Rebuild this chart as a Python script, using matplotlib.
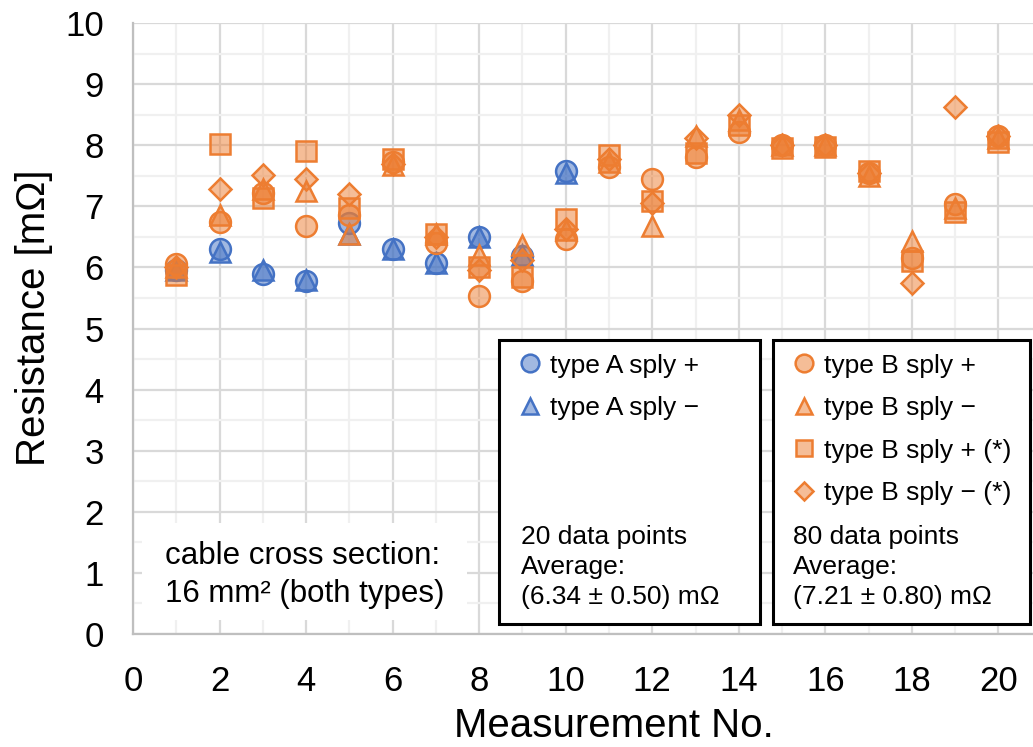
import matplotlib
matplotlib.use("Agg")
import matplotlib.pyplot as plt
from matplotlib.patches import Rectangle
from matplotlib.ticker import MultipleLocator

plt.rcParams['font.family'] = ['Liberation Sans', 'DejaVu Sans']

measurement = list(range(1, 21))
a_plus = [5.95, 6.3, 5.9, 5.77, 6.72, 6.3, 6.07, 6.5, 6.18, 7.58,
          None, None, None, None, None, None, None, None, None, None]
a_minus = [5.95, 6.25, 5.95, 5.8, 6.55, 6.3, 6.07, 6.5, 6.2, 7.55,
           None, None, None, None, None, None, None, None, None, None]
b_plus = [6.05, 6.75, 7.22, 6.67, 6.85, 7.72, 6.4, 5.53, 5.77, 6.46,
          7.65, 7.44, 7.8, 8.22, 8.0, 8.0, 7.55, 6.15, 7.03, 8.15]
b_minus = [6.0, 6.85, 7.28, 7.25, 6.55, 7.68, 6.55, 6.2, 6.37, 6.62,
           7.72, 6.68, 8.15, 8.42, 8.0, 8.0, 7.5, 6.43, 6.98, 8.12]
b_plus_star = [5.88, 8.02, 7.13, 7.9, 6.98, 7.77, 6.55, 6.0, 5.85, 6.8,
               7.84, 7.08, 7.87, 8.33, 7.95, 7.97, 7.58, 6.1, 6.9, 8.05]
b_minus_star = [6.0, 7.28, 7.52, 7.45, 7.2, 7.7, 6.5, 5.95, 6.12, 6.63,
                7.78, 7.05, 8.12, 8.5, 8.0, 8.0, 7.55, 5.75, 8.63, 8.15]

labels_a = ["type A sply +", "type A sply \u2212"]
labels_b = ["type B sply +", "type B sply \u2212", "type B sply + (*)", "type B sply \u2212 (*)"]
stats_a = "20 data points\nAverage:\n(6.34 \u00b1 0.50) m\u03a9"
stats_b = "80 data points\nAverage:\n(7.21 \u00b1 0.80) m\u03a9"
note = "cable cross section:\n16 mm\u00b2 (both types)"

BLUE = "#4472C4"
ORANGE = "#ED7D31"

W, H = 1033, 747
fig = plt.figure(figsize=(W / 100, H / 100), dpi=100)
ax = fig.add_axes([133 / W, (H - 634) / H, (W - 133) / W, (634 - 23) / H])

def face(c, a=0.5):
    return matplotlib.colors.to_rgba(c, a)

def series(y):
    xs = [m for m, v in zip(measurement, y) if v is not None]
    ys = [v for v in y if v is not None]
    return xs, ys

specs = [
    (a_plus, BLUE, 'o', 15, labels_a[0]),
    (a_minus, BLUE, '^', 14, labels_a[1]),
    (b_plus, ORANGE, 'o', 15, labels_b[0]),
    (b_minus, ORANGE, '^', 14, labels_b[1]),
    (b_plus_star, ORANGE, 's', 14, labels_b[2]),
    (b_minus_star, ORANGE, 'D', 11, labels_b[3]),
]
handles = []
for y, c, m, ms, lab in specs:
    xs, ys = series(y)
    h, = ax.plot(xs, ys, linestyle='none', marker=m, markersize=ms,
                 markerfacecolor=face(c), markeredgecolor=c, markeredgewidth=1.8,
                 label=lab, zorder=3)
    handles.append(h)

ax.set_xlim(0, 20.8)
ax.set_ylim(0, 10)
ax.xaxis.set_major_locator(MultipleLocator(2))
ax.xaxis.set_minor_locator(MultipleLocator(1))
ax.yaxis.set_major_locator(MultipleLocator(1))
ax.yaxis.set_minor_locator(MultipleLocator(0.5))
ax.grid(which='major', color='#d9d9d9', linewidth=1.6, zorder=0)
ax.grid(which='minor', color='#f0f0f0', linewidth=1.6, zorder=0)
ax.set_axisbelow(True)
ax.tick_params(which='both', length=0, labelsize=25, colors='#000000')
ax.tick_params(axis='y', pad=21)
ax.tick_params(axis='x', pad=22)
for s in ['top', 'right']:
    ax.spines[s].set_visible(False)
for s in ['left', 'bottom']:
    ax.spines[s].set_color('#bfbfbf')
    ax.spines[s].set_linewidth(1.6)
ax.set_xlabel("Measurement No.", fontsize=29)
ax.set_ylabel("Resistance [m\u03a9]", fontsize=29)
ax.xaxis.set_label_coords(0.534, -0.12)
ax.yaxis.set_label_coords(-0.089, 0.517)

# white note box
fig.patches.append(Rectangle((142 / W, (H - 620) / H), (467 - 142) / W, (620 - 523) / H,
                             transform=fig.transFigure, facecolor='white', edgecolor='none', zorder=2))
fig.text(165 / W, (H - 575) / H, note, fontsize=22.5, ha='left', va='center', linespacing=1.32, zorder=3)

# legend boxes
for x0, x1 in [(499, 760), (773, 1030)]:
    fig.patches.append(Rectangle((x0 / W, (H - 624) / H), (x1 - x0) / W, (624 - 340) / H,
                                 transform=fig.transFigure, facecolor='white',
                                 edgecolor='black', linewidth=2.2, zorder=4))

leg_kw = dict(loc='upper left', frameon=False, fontsize=19, handlelength=0.9,
              handletextpad=0.3, labelspacing=0.7, markerscale=0.85, borderaxespad=0)
leg_a = fig.legend(handles[:2], labels_a, bbox_to_anchor=(508 / W, (H - 343) / H), **leg_kw)
leg_b = fig.legend(handles[2:], labels_b, bbox_to_anchor=(782 / W, (H - 343) / H), **leg_kw)
leg_a.set_zorder(5)
leg_b.set_zorder(5)

fig.text(521 / W, (H - 567) / H, stats_a, fontsize=19, ha='left', va='center', linespacing=1.33, zorder=6)
fig.text(793 / W, (H - 567) / H, stats_b, fontsize=19, ha='left', va='center', linespacing=1.33, zorder=6)

fig.savefig("out.png", dpi=100)
